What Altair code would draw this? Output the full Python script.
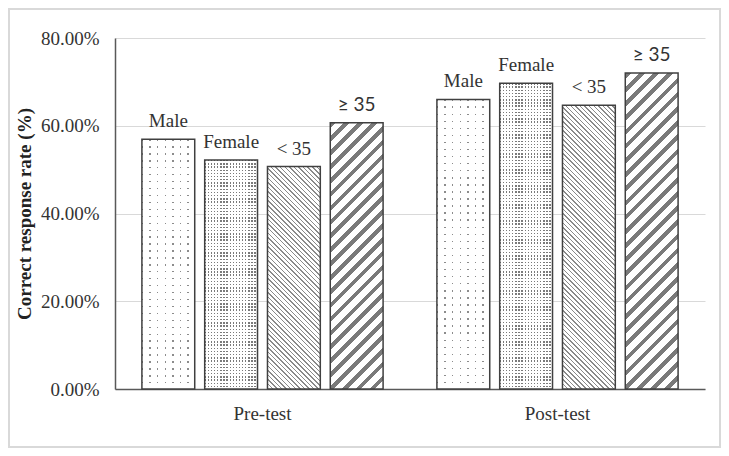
import altair as alt
import pandas as pd

# ---- data ----
groups = ["Pre-test", "Post-test"]
series = ["Male", "Female", "< 35", "≥ 35"]
pre_values = [56.9, 52.2, 50.7, 60.7]
post_values = [66.0, 69.7, 64.7, 72.0]
y_ticks = [0.0, 0.2, 0.4, 0.6, 0.8]

rows = []
for g, vals in zip(groups, [pre_values, post_values]):
    for s, v in zip(series, vals):
        rows.append({"group": g, "series": s, "rate": v / 100})
df = pd.DataFrame(rows)

# ---- layout ----
PLOT_W, PLOT_H = 590, 351
Y_MAX = 0.8
PAD_IN = 10 / 63
PAD_OUT = 27 / 63
STEP = (PLOT_W / 2) / (4 - PAD_IN + 2 * PAD_OUT)
BAR_W = STEP * (1 - PAD_IN)
SERIF = "Liberation Serif"
TXT = "#333333"
EDGE = "#404040"


def stripe_stops(n, duty, ink, paper):
    stops = []
    for k in range(n):
        a0 = k / n
        a1 = (k + duty) / n
        b1 = (k + 1) / n
        stops += [
            {"offset": round(a0, 5), "color": ink},
            {"offset": round(a1, 5), "color": ink},
            {"offset": round(a1, 5), "color": paper},
            {"offset": round(b1, 5), "color": paper},
        ]
    return stops


def diag_fill(h, period, duty, ink, rising):
    w = BAR_W
    r = h / w
    a = (1 + r) / (1 + r * r)
    b = r * a
    n = max(1, round((w + h) / period))
    if rising:
        x1, y1, x2, y2 = 0, 0, a, b
    else:
        x1, y1, x2, y2 = 0, 1, a, 1 - b
    return {"gradient": "linear", "x1": x1, "y1": y1, "x2": x2, "y2": y2,
            "stops": stripe_stops(n, duty, ink, "#ffffff")}


def cols_fill(period, dot, ink):
    n = max(1, round(BAR_W / period))
    return {"gradient": "linear", "x1": 0, "y1": 0, "x2": 1, "y2": 0,
            "stops": stripe_stops(n, dot / period, ink, "#ffffff")}


def rows_mask(h, period, dot):
    n = max(1, round(h / period))
    return {"gradient": "linear", "x1": 0, "y1": 0, "x2": 0, "y2": 1,
            "stops": stripe_stops(n, dot / period, "rgba(255,255,255,0)", "#ffffff")}


x_enc = alt.X(
    "group:N", sort=groups,
    scale=alt.Scale(domain=groups, paddingInner=0, paddingOuter=0),
    axis=alt.Axis(title=None, labelAngle=0, labelFont=SERIF, labelFontSize=19,
                  labelColor=TXT, ticks=False, tickSize=0, labelPadding=15,
                  domainColor="#595959", domainWidth=1.5, grid=False),
)
xo_enc = alt.XOffset(
    "series:N",
    scale=alt.Scale(domain=series, paddingInner=PAD_IN, paddingOuter=PAD_OUT),
)
y_enc = alt.Y(
    "rate:Q",
    scale=alt.Scale(domain=[0, Y_MAX]),
    axis=alt.Axis(title="Correct response rate (%)", format=".2%", values=y_ticks,
                  labelFont=SERIF, labelFontSize=19, labelColor=TXT, labelPadding=16,
                  ticks=False, tickSize=0, domainColor="#595959", domainWidth=1.5,
                  gridColor="#d9d9d9", gridWidth=1,
                  titleFont=SERIF, titleFontSize=19, titleFontWeight="bold",
                  titleColor="#222222", titlePadding=6),
)

base = alt.Chart(df).encode(x=x_enc, xOffset=xo_enc, y=y_enc)

layers = []
for g, vals in zip(groups, [pre_values, post_values]):
    for s, v in zip(series, vals):
        h = v / 100 / Y_MAX * PLOT_H
        sel = base.transform_filter((alt.datum.group == g) & (alt.datum.series == s))
        if s == "Male":
            layers.append(sel.mark_bar(fill=cols_fill(7.5, 1.4, "#8c8c8c"), strokeWidth=0))
            layers.append(sel.mark_bar(fill=rows_mask(h, 7.0, 1.4), stroke=EDGE, strokeWidth=1.5))
        elif s == "Female":
            layers.append(sel.mark_bar(fill=cols_fill(3.2, 1.4, "#7a7a7a"), strokeWidth=0))
            layers.append(sel.mark_bar(fill=rows_mask(h, 3.2, 1.4), stroke=EDGE, strokeWidth=1.5))
        elif s == "< 35":
            layers.append(sel.mark_bar(fill=diag_fill(h, 4.6, 0.32, "#8a8a8a", False),
                                       stroke=EDGE, strokeWidth=1.5))
        else:
            layers.append(sel.mark_bar(fill=diag_fill(h, 14.0, 0.4, "#7a7a7a", True),
                                       stroke=EDGE, strokeWidth=1.5))

labels_serif = base.transform_filter(alt.datum.series != "≥ 35").mark_text(
    baseline="alphabetic", dy=-12, font=SERIF, fontSize=19, color=TXT
).encode(text="series:N")
labels_sans = base.transform_filter(alt.datum.series == "≥ 35").mark_text(
    baseline="alphabetic", dy=-12, font="Lato", fontSize=19, color=TXT
).encode(text="series:N")

frame = alt.Chart(pd.DataFrame({"frame": [0]})).mark_rect(
    filled=False, stroke="#d9d9d9", strokeWidth=2
).encode(x=alt.value(-106), x2=alt.value(605), y=alt.value(-29), y2=alt.value(409))

chart = alt.layer(*layers, labels_serif, labels_sans, frame).properties(
    width=PLOT_W, height=PLOT_H,
    autosize=alt.AutoSizeParams(type="none"),
    padding={"left": 107, "top": 30, "right": 16, "bottom": 59},
).configure_view(stroke=None)

chart.save("out.html", embed_options={"renderer": "svg", "actions": False})
